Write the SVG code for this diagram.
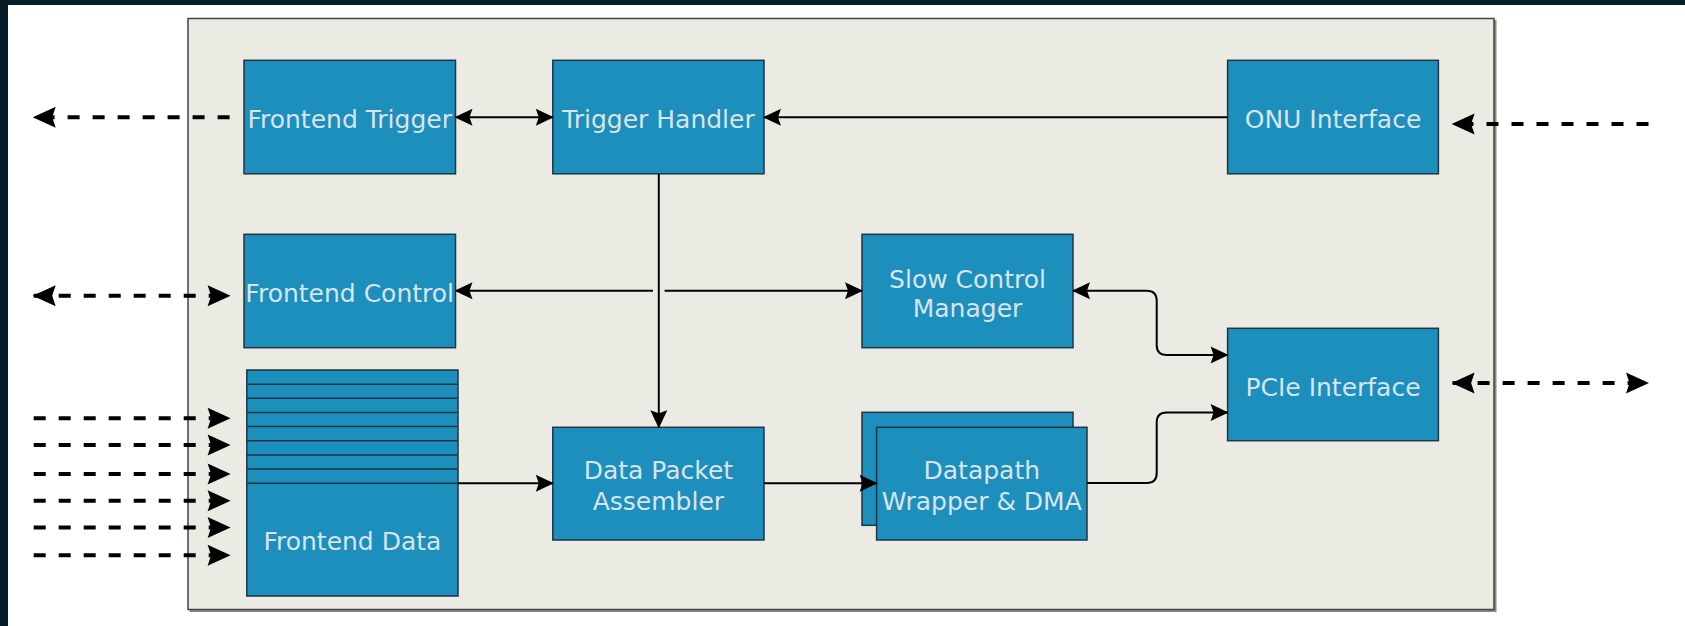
<svg xmlns="http://www.w3.org/2000/svg" width="1685" height="626" viewBox="0 0 1685 626">
<style>
.box{fill:#1c8fbc;stroke:#1e3644;stroke-width:1.5}
.lbl{font-family:"DejaVu Sans",sans-serif;font-size:25px;fill:#d9e4ea;text-anchor:middle}
.ln{fill:none;stroke:#000;stroke-width:2}
.dl{fill:none;stroke:#000;stroke-width:4;stroke-dasharray:12 13}
</style>
<defs>
<marker id="ar" viewBox="-19 -10 21 20" refX="0" refY="0" markerWidth="21" markerHeight="20" markerUnits="userSpaceOnUse" orient="auto-start-reverse">
<path d="M1,0 L-17,-8.5 L-14,0 L-17,8.5 Z" fill="#000"/>
</marker>
<marker id="ad" viewBox="-25 -13 27 26" refX="0" refY="0" markerWidth="27" markerHeight="26" markerUnits="userSpaceOnUse" orient="auto-start-reverse">
<path d="M1,0 L-22,-10.5 L-18.5,0 L-22,10.5 Z" fill="#000"/>
</marker>
</defs>
<rect x="0" y="0" width="1685" height="626" fill="#ffffff"/>
<rect x="0" y="0" width="1685" height="5" fill="#061c29"/>
<rect x="0" y="0" width="8" height="626" fill="#061c29"/>
<g id="container">
<rect x="189.5" y="20" width="1307" height="592" fill="#8a8a86"/>
<rect x="188" y="18.5" width="1306" height="591" fill="#ecebe3" stroke="#444" stroke-width="1.5"/>
</g>
<g id="frontend-trigger">
<rect class="box" x="244" y="60.3" width="211.5" height="113.5"/>
<text class="lbl" x="349.7" y="127.7">Frontend Trigger</text>
</g>
<g id="trigger-handler">
<rect class="box" x="552.8" y="60.3" width="211.2" height="113.5"/>
<text class="lbl" x="658.4" y="127.7">Trigger Handler</text>
</g>
<g id="onu-interface">
<rect class="box" x="1227.6" y="60.3" width="210.8" height="113.5"/>
<text class="lbl" x="1333" y="127.7">ONU Interface</text>
</g>
<g id="frontend-control">
<rect class="box" x="244" y="234.3" width="211.5" height="113.4"/>
<text class="lbl" x="349.7" y="301.5">Frontend Control</text>
</g>
<g id="slow-control-manager">
<rect class="box" x="862" y="234.3" width="211" height="113.4"/>
<text class="lbl" x="967.5" y="288">Slow Control</text>
<text class="lbl" x="967.5" y="317">Manager</text>
</g>
<g id="pcie-interface">
<rect class="box" x="1227.6" y="328.3" width="210.8" height="112.4"/>
<text class="lbl" x="1333" y="395.5">PCIe Interface</text>
</g>
<g id="frontend-data">
<rect class="box" x="246.8" y="370" width="211.2" height="226"/>
<path d="M246.8,384.2 H458 M246.8,398.3 H458 M246.8,412.4 H458 M246.8,426.6 H458 M246.8,440.7 H458 M246.8,454.9 H458 M246.8,469.1 H458 M246.8,483.3 H458" stroke="#1e3644" stroke-width="1.5" fill="none"/>
<text class="lbl" x="352.4" y="550">Frontend Data</text>
</g>
<g id="data-packet-assembler">
<rect class="box" x="552.8" y="427.3" width="211.2" height="112.7"/>
<text class="lbl" x="658.4" y="479">Data Packet</text>
<text class="lbl" x="658.4" y="509.5">Assembler</text>
</g>
<g id="datapath-wrapper-dma">
<rect class="box" x="862" y="412.3" width="211" height="113"/>
<rect class="box" x="876.6" y="427.3" width="210.4" height="112.7"/>
<text class="lbl" x="981.8" y="479">Datapath</text>
<text class="lbl" x="981.8" y="509.5">Wrapper &amp; DMA</text>
</g>
<g id="connectors">
<path class="ln" d="M455.5,117.3 H552.8" marker-start="url(#ar)" marker-end="url(#ar)"/>
<path class="ln" d="M1227.6,117.3 H764" marker-end="url(#ar)"/>
<path class="ln" d="M658.8,174 V427.3" marker-end="url(#ar)"/>
<path class="ln" d="M653,290.7 H455.5" marker-end="url(#ar)"/>
<path class="ln" d="M664.6,290.7 H862" marker-end="url(#ar)"/>
<path class="ln" d="M458,483.3 H552.8" marker-end="url(#ar)"/>
<path class="ln" d="M764,483.3 H876.6" marker-end="url(#ar)"/>
<path class="ln" d="M1073,290.7 H1146.7 Q1156.7,290.7 1156.7,300.7 V345 Q1156.7,355 1166.7,355 H1227.6" marker-start="url(#ar)" marker-end="url(#ar)"/>
<path class="ln" d="M1087,483 H1146.7 Q1156.7,483 1156.7,473 V422.5 Q1156.7,412.5 1166.7,412.5 H1227.6" marker-end="url(#ar)"/>
<path class="dl" d="M229.6,117.3 H33.7" marker-end="url(#ad)"/>
<path class="dl" d="M1648.5,124 H1452.6" marker-end="url(#ad)"/>
<path class="dl" d="M33.7,295.7 H229.6" marker-start="url(#ad)" marker-end="url(#ad)"/>
<path class="dl" d="M1452.6,383 H1648" marker-start="url(#ad)" marker-end="url(#ad)"/>
<path class="dl" d="M33.7,418.3 H229.6" marker-end="url(#ad)"/>
<path class="dl" d="M33.7,445 H229.6" marker-end="url(#ad)"/>
<path class="dl" d="M33.7,474 H229.6" marker-end="url(#ad)"/>
<path class="dl" d="M33.7,500.8 H229.6" marker-end="url(#ad)"/>
<path class="dl" d="M33.7,527.5 H229.6" marker-end="url(#ad)"/>
<path class="dl" d="M33.7,555.3 H229.6" marker-end="url(#ad)"/>
</g>
</svg>
